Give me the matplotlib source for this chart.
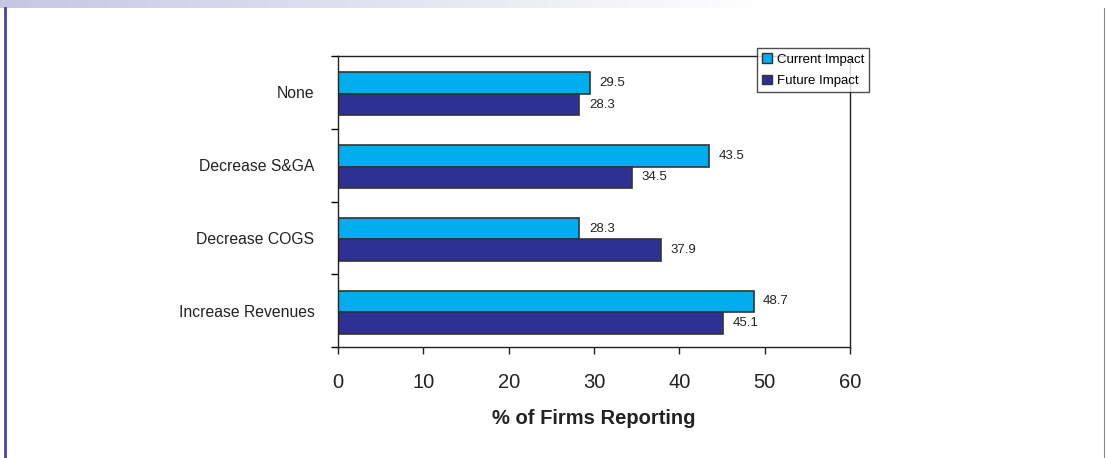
import numpy as np
import matplotlib.pyplot as plt
from matplotlib.patches import Patch
from matplotlib.lines import Line2D
from matplotlib.colors import LinearSegmentedColormap

plt.rcParams['font.family'] = ['Liberation Sans', 'DejaVu Sans']

# ---- data ----
categories = ['None', 'Decrease S&GA', 'Decrease COGS', 'Increase Revenues']
current_impact = [29.5, 43.5, 28.3, 48.7]
future_impact = [28.3, 34.5, 37.9, 45.1]
x_ticks = [0, 10, 20, 30, 40, 50, 60]

c_current = '#00AEEF'
c_future = '#2E3192'
edge = '#333333'

fig = plt.figure(figsize=(11.06, 4.58), dpi=100)

# ---- slide decorations ----
grad = np.linspace(0, 1, 256).reshape(1, -1)
band = fig.add_axes([0, 1 - 8 / 458, 762 / 1106, 8 / 458])
band.imshow(grad, aspect='auto',
            cmap=LinearSegmentedColormap.from_list('band', ['#C6C6E4', '#FFFFFF']))
band.axis('off')
fig.add_artist(Line2D([4.5 / 1106, 4.5 / 1106], [0, 1 - 8 / 458], color='#4545A5', lw=2))
fig.add_artist(Line2D([1104 / 1106, 1104 / 1106], [0, 1 - 8 / 458], color='#888888', lw=0.8))

# ---- chart ----
ax = fig.add_axes([338 / 1106, 1 - 347 / 458, 512 / 1106, 291 / 458])
y = np.arange(len(categories))
h = 0.295
ax.barh(y - h / 2 + 0.02, current_impact, height=h, color=c_current, edgecolor=edge, linewidth=1.2,
        label='Current Impact')
ax.barh(y + h / 2 + 0.02, future_impact, height=h, color=c_future, edgecolor=edge, linewidth=1.2,
        label='Future Impact')

for i, (c, f) in enumerate(zip(current_impact, future_impact)):
    ax.text(c + 1.1, i - h / 2 + 0.02, f'{c:.1f}', va='center', ha='left', fontsize=9.5, color='#222222')
    ax.text(f + 1.1, i + h / 2 + 0.02, f'{f:.1f}', va='center', ha='left', fontsize=9.5, color='#222222')

ax.set_xlim(0, 60)
ax.set_ylim(len(categories) - 0.5, -0.5)
ax.set_xticks(x_ticks)
ax.set_xticklabels([str(t) for t in x_ticks], fontsize=14.5)
ax.tick_params(axis='x', direction='out', length=5, width=1, pad=14, colors='#222222')

ax.set_yticks(np.arange(-0.5, len(categories), 1))
ax.set_yticklabels([])
ax.tick_params(axis='y', which='major', direction='out', length=5, width=1)
ax.set_yticks(y, minor=True)
ax.set_yticklabels(categories, minor=True, fontsize=11.3)
ax.tick_params(axis='y', which='minor', length=0, pad=17, labelcolor='#222222')

for s in ax.spines.values():
    s.set_color('#222222')
    s.set_linewidth(1)

ax.set_xlabel('% of Firms Reporting', fontsize=14.5, fontweight='bold', labelpad=12, color='#222222')

handles = [Patch(facecolor=c_current, edgecolor=edge, label='Current Impact'),
           Patch(facecolor=c_future, edgecolor=edge, label='Future Impact')]
leg = fig.legend(handles=handles, loc='upper left', bbox_to_anchor=(757 / 1106, 1 - 48 / 458),
                 fontsize=9.5, frameon=True, fancybox=False, handlelength=0.7, handleheight=0.7,
                 handletextpad=0.4, borderpad=0.4, labelspacing=0.7, borderaxespad=0)
leg.get_frame().set_edgecolor('#222222')
leg.get_frame().set_linewidth(1)

fig.savefig('out.png', dpi=100)
